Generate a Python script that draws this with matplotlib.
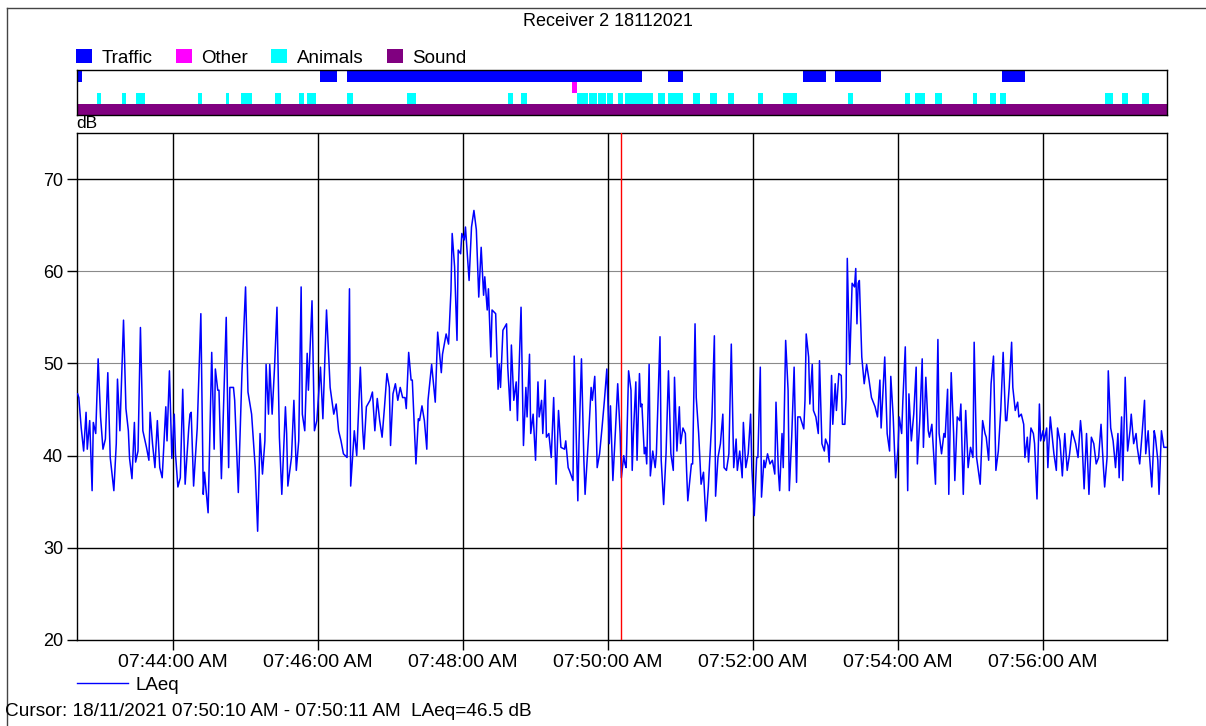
import matplotlib
matplotlib.use("Agg")
import matplotlib.pyplot as plt
from matplotlib.patches import Patch
from matplotlib.lines import Line2D

plt.rcParams['font.family'] = ['Liberation Sans', 'DejaVu Sans']

title = "Receiver 2 18112021"
cursor_text = "Cursor: 18/11/2021 07:50:10 AM - 07:50:11 AM  LAeq=46.5 dB"

# time axis in seconds after 07:42:00
t_start, t_end = 40.5, 942.6
time_ticks = [120, 240, 360, 480, 600, 720, 840]
time_labels = ["07:44:00 AM", "07:46:00 AM", "07:48:00 AM", "07:50:00 AM",
               "07:52:00 AM", "07:54:00 AM", "07:56:00 AM"]
db_ticks = [20, 30, 40, 50, 60, 70]
cursor_t = 490.5

# LAeq trace (seconds, dB)
t = [41, 42, 44, 46, 48, 49, 51, 53, 54, 56, 58, 60, 62, 64, 66, 68, 71, 73, 74, 76,
     79, 81, 83, 84, 86, 88, 89, 91, 93, 95, 98, 100, 101, 103, 105, 107, 109, 111, 114, 115,
     117, 119, 121, 122, 124, 126, 128, 130, 133, 134, 135, 137, 140, 143, 145, 146, 149, 151, 152, 154,
     155, 157, 158, 160, 164, 166, 167, 170, 171, 174, 175, 177, 180, 182, 185, 188, 190, 192, 194, 196,
     197, 199, 200, 202, 204, 206, 208, 210, 213, 214, 215, 218, 220, 222, 224, 226, 227, 229, 231, 232,
     235, 237, 239, 242, 244, 247, 250, 253, 255, 257, 259, 261, 264,
     266, 267, 270, 272, 275, 277, 278, 280, 283, 285, 287, 289, 291, 293, 295, 297, 299, 300, 302, 304,
     306, 308, 310, 312, 313, 315, 317, 318, 321, 323, 324, 326, 328, 330, 331, 334, 335, 337, 339, 342,
     343, 345, 346, 348, 350, 351, 353, 355, 356, 358, 359, 361, 362, 365, 367, 369, 371, 373, 375, 377,
     378, 380, 381, 383, 384, 387, 389, 390, 391, 393, 396, 397, 399, 400, 402, 404, 405, 408, 410, 412,
     413, 415, 416, 418, 420, 422, 423, 425, 426, 428, 429, 431, 433, 435, 437, 439, 441, 444, 445, 447,
     448, 451, 452, 455, 456, 458, 460, 461, 464, 466, 467, 469, 470, 471, 473, 475, 477, 479, 481, 482,
     484, 486, 488,
     490, 491, 493, 494, 495, 497, 499, 500, 501, 503, 504, 506, 507, 508, 510, 511, 512, 514, 515, 517,
     519, 520, 523, 524, 526, 528, 530, 532, 534, 535, 537, 539, 540, 542, 544, 545, 546, 549, 550, 552,
     553, 555, 557, 559, 561, 563, 566, 568, 569, 571, 573, 575, 576, 578, 580, 582, 584, 586, 587, 589,
     591, 592, 594, 596, 598, 599, 601, 603, 604, 606, 607, 609, 610, 612, 614, 616, 618, 619, 621, 622,
     624, 625, 627, 629, 630, 632, 634, 636, 637, 639, 642, 643, 644, 646, 647, 649, 650, 652, 654, 655,
     657, 659, 660, 662, 663, 665, 666, 668, 669, 671, 673, 674, 676, 677, 678, 680, 682, 684, 685, 686,
     687, 688, 689, 690, 692, 694, 696, 698, 701, 703, 705, 706, 709, 711,
     713, 714, 716, 718, 720, 721, 723, 724, 726, 728, 729, 731, 733, 735, 736, 738, 740, 741, 743, 745,
     746, 748, 751, 753, 754, 756, 758, 759, 761, 762, 764, 766, 767, 769, 771, 772, 774, 776, 778, 780,
     782, 783, 785, 788, 790, 792, 793, 795, 797, 799, 801, 803, 805, 807, 809, 810, 812, 814, 815, 817,
     819, 820, 822, 824, 825, 827, 828, 830, 832, 833, 835, 837, 838, 840, 841, 843, 844, 846, 849, 851,
     852, 854, 856, 858, 860, 862, 864, 867, 869, 871, 872, 874, 876, 878, 880, 882, 884, 886, 888, 890,
     891, 893, 894, 896, 898, 900, 902, 903, 905, 906, 908, 910, 912, 913, 915, 917, 918, 920, 922, 924,
     925, 927, 928, 930, 932, 933, 935, 936, 938, 940, 943]

laeq = [46.7, 46.3, 43.0, 40.5, 44.7, 40.7, 43.8, 36.2, 43.6, 42.4, 50.5, 44.2, 40.7, 41.8, 49.0, 39.8, 36.2, 41.3, 48.3, 42.7,
        54.7, 45.1, 42.7, 39.7, 37.5, 43.6, 39.3, 40.5, 53.9, 42.7, 40.9, 39.5, 44.7, 41.3, 38.7, 43.8, 38.7, 37.6, 45.3, 41.6,
        49.2, 39.7, 44.5, 40.2, 36.6, 37.6, 47.2, 36.9, 43.0, 44.5, 44.7, 36.7, 43.0, 55.4, 35.8, 38.2, 33.8, 45.3, 51.2, 40.7,
        49.4, 47.1, 47.1, 37.5, 55.0, 38.7, 47.4, 47.4, 46.0, 36.0, 40.2, 48.9, 58.3, 46.9, 44.5, 38.7, 31.8, 42.4, 38.0, 41.6,
        49.9, 44.5, 49.9, 44.5, 49.6, 56.1, 42.0, 35.8, 45.3, 42.4, 36.7, 39.8, 46.0, 38.4, 41.6, 58.3, 44.5, 42.7, 51.1, 47.1,
        56.8, 42.7, 43.8, 49.6, 44.0, 55.8, 47.4, 44.5, 45.6, 42.7, 41.6, 40.2, 39.8,
        58.1, 36.7, 42.7, 40.0, 49.6, 42.7, 40.7, 45.3, 46.0, 46.9, 42.7, 46.2, 43.8, 42.0, 45.3, 48.9, 47.4, 41.1, 46.7, 47.8,
        46.0, 47.4, 46.3, 46.3, 45.1, 51.2, 48.2, 48.2, 39.1, 44.0, 43.8, 45.4, 43.8, 40.7, 46.0, 49.9, 48.5, 45.8, 53.4, 49.0,
        51.0, 52.5, 53.2, 52.1, 57.9, 64.1, 60.5, 52.5, 62.3, 61.9, 64.1, 63.4, 64.8, 59.0, 64.8, 66.6, 64.5, 57.2, 62.6, 57.4,
        59.4, 55.8, 58.1, 50.7, 55.8, 55.4, 47.2, 49.9, 47.4, 53.6, 54.3, 49.6, 44.9, 52.0, 46.0, 48.0, 43.8, 56.1, 41.1, 47.4,
        44.2, 51.0, 42.4, 44.5, 39.5, 48.0, 44.2, 46.0, 42.4, 48.2, 42.0, 42.4, 39.8, 46.3, 36.9, 44.9, 40.9, 40.7, 41.6, 38.7,
        38.4, 37.3, 50.8, 35.1, 41.6, 50.5, 39.5, 35.8, 42.4, 47.4, 46.0, 48.6, 44.5, 38.7, 40.2, 43.0, 46.0, 49.4, 41.3, 45.4,
        37.3, 42.4, 47.8,
        42.4, 37.6, 40.0, 39.1, 38.7, 49.2, 47.1, 38.4, 42.4, 48.0, 39.5, 48.9, 45.3, 45.6, 40.2, 40.9, 39.1, 49.9, 37.8, 40.5,
        38.7, 40.2, 52.9, 39.5, 34.7, 40.2, 49.2, 40.2, 38.4, 48.5, 40.5, 45.3, 41.3, 43.0, 42.4, 38.4, 35.1, 39.1, 39.1, 54.3,
        46.3, 42.4, 36.9, 38.2, 32.9, 36.6, 44.2, 53.0, 35.6, 39.8, 41.3, 44.5, 38.7, 38.4, 40.2, 52.1, 38.7, 41.8, 38.4, 40.5,
        37.6, 43.6, 38.7, 40.2, 44.5, 38.7, 33.5, 39.8, 39.8, 49.6, 35.5, 39.5, 38.7, 40.2, 39.1, 39.5, 38.0, 45.8, 38.2, 36.2,
        42.4, 38.7, 52.5, 47.1, 36.2, 42.0, 49.6, 37.1, 44.2, 44.2, 42.9, 46.0, 53.2, 50.7, 45.6, 49.9, 44.9, 44.2, 42.4, 50.3,
        41.3, 40.5, 41.8, 41.1, 39.3, 48.7, 43.4, 47.8, 44.9, 48.9, 48.7, 43.4, 43.4, 46.3, 61.4, 49.9, 58.7, 58.3, 60.3, 54.3,
        58.7, 59.0, 55.0, 50.7, 47.8, 49.9, 48.2, 46.3, 45.3, 44.2, 48.2, 43.0, 50.7, 42.4,
        40.5, 48.6, 44.2, 37.6, 40.9, 44.2, 42.4, 46.0, 51.8, 36.2, 46.7, 41.6, 44.5, 49.6, 39.1, 43.8, 50.5, 40.9, 48.5, 42.7,
        42.0, 43.4, 36.9, 52.6, 42.4, 40.2, 42.4, 42.0, 47.2, 35.8, 49.0, 42.4, 37.3, 44.2, 43.8, 45.6, 35.8, 44.9, 38.7, 40.9,
        39.8, 52.3, 39.8, 36.9, 43.8, 42.4, 42.0, 39.5, 47.8, 50.8, 38.4, 40.5, 44.9, 51.2, 43.8, 43.8, 47.4, 52.3, 47.4, 44.9,
        45.8, 44.2, 44.5, 43.4, 39.8, 42.0, 39.3, 43.0, 42.4, 41.3, 35.3, 45.6, 41.6, 42.7, 41.6, 43.0, 38.7, 44.2, 40.2, 38.4,
        43.0, 41.6, 37.8, 42.4, 38.4, 40.2, 42.7, 41.3, 39.8, 43.8, 42.4, 36.4, 42.4, 35.8, 42.0, 41.3, 39.1, 39.8, 43.4, 38.7,
        36.6, 39.8, 49.2, 43.0, 41.6, 38.7, 42.4, 37.6, 44.2, 37.3, 48.5, 40.5, 42.7, 44.5, 41.3, 42.4, 40.9, 39.1, 42.4, 46.0,
        40.2, 42.7, 40.2, 36.6, 42.7, 42.0, 39.5, 35.8, 42.7, 40.9, 40.9]

# event intervals (start, end) in seconds
traffic = [(40.5, 45), (242, 256), (264, 508), (530, 542), (641, 660), (668, 706), (806, 825)]
other = [(450, 454)]
animals = [(57, 60), (78, 81), (89, 97), (141, 144), (164, 166), (176, 185), (204, 209),
           (224, 228), (231, 238), (264, 269), (314, 321), (397, 401), (408, 413), (454, 463),
           (464, 471), (472, 478), (479, 484), (488, 492), (494, 517), (521, 527), (530, 542),
           (550, 556), (564, 570), (579, 584), (604, 608), (625, 636), (679, 683), (726, 730),
           (734, 742), (751, 756), (782, 785), (796, 801), (804, 809), (891, 898), (905, 910),
           (922, 928)]
sound = [(t_start, t_end)]

event_names = ["Traffic", "Other", "Animals", "Sound"]
event_colors = ["#0000ff", "#ff00ff", "#00ffff", "#800080"]

W, H = 1206, 726
fig = plt.figure(figsize=(W / 100, H / 100), dpi=100)

# main level plot
ax = fig.add_axes([77 / W, 1 - 640 / H, 1090 / W, 507 / H])
for v in [30, 70]:
    ax.axhline(v, color="black", lw=1.0, zorder=1)
for v in [40, 50, 60]:
    ax.axhline(v, color="#8a8a8a", lw=0.8, zorder=1)
for v in time_ticks:
    ax.axvline(v, color="black", lw=1.0, zorder=1)
ax.plot(t, laeq, color="#0000ff", lw=1.1, zorder=3)
ax.axvline(cursor_t, color="red", lw=1.0, zorder=4)
ax.set_xlim(t_start, t_end)
ax.set_ylim(20, 75)
ax.set_xticks(time_ticks, time_labels)
ax.set_yticks(db_ticks)
ax.tick_params(direction="out", length=7, width=1, pad=3)
ax.tick_params(axis="x", labelsize=14)
ax.tick_params(axis="y", labelsize=13)
for s in ax.spines.values():
    s.set_linewidth(1.0)

# event strip
ev = fig.add_axes([77 / W, 1 - 115 / H, 1090 / W, 45 / H])
rows = [(3.0, 1.05), (2.0, 1.0), (1.0, 1.0), (0.0, 1.0)]
for spans, color, (y0, h) in zip([traffic, other, animals, sound], event_colors, rows):
    ev.broken_barh([(a, b - a) for a, b in spans], (y0, h), color=color, lw=0)
ev.set_xlim(t_start, t_end)
ev.set_ylim(0, 4.1)
ev.set_xticks([])
ev.set_yticks([])
for s in ev.spines.values():
    s.set_linewidth(1.0)

handles = [Patch(facecolor=c, edgecolor="none", label=n) for n, c in zip(event_names, event_colors)]
fig.legend(handles=handles, loc="center left", bbox_to_anchor=(76 / W, 1 - 58 / H),
           ncol=4, frameon=False, fontsize=13.5, handlelength=0.85, handleheight=0.72,
           handletextpad=0.5, columnspacing=1.25, borderpad=0, borderaxespad=0)

line_handle = Line2D([], [], color="#0000ff", lw=1.0, label="LAeq")
fig.legend(handles=[line_handle], loc="center left", bbox_to_anchor=(77 / W, 1 - 685 / H),
           frameon=False, fontsize=13.5, handlelength=2.7, handletextpad=0.4,
           borderpad=0, borderaxespad=0)

fig.text(608 / W, 1 - 22 / H, title, ha="center", va="center", fontsize=13)
fig.text(76 / W, 1 - 124 / H, "dB", ha="left", va="center", fontsize=12.5)
fig.text(5 / W, 1 - 711 / H, cursor_text, ha="left", va="center", fontsize=13.7)

# outer frame
fig.add_artist(Line2D([7 / W, 7 / W], [0, 1 - 8 / H], transform=fig.transFigure, color="#444444", lw=1))
fig.add_artist(Line2D([7 / W, 1], [1 - 8 / H, 1 - 8 / H], transform=fig.transFigure, color="#444444", lw=1))

fig.savefig("out.png", dpi=100)
